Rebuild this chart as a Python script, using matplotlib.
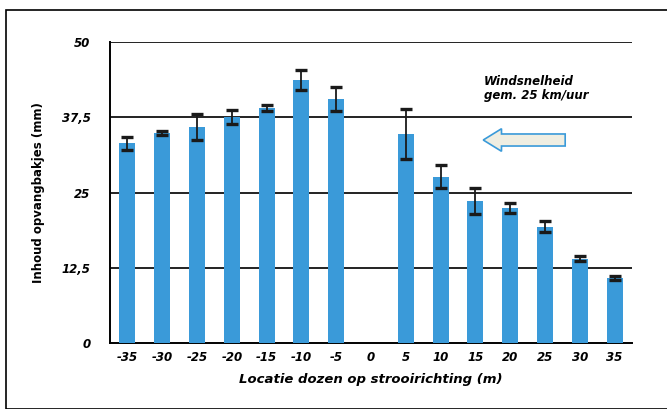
import matplotlib
matplotlib.use("Agg")
import matplotlib.pyplot as plt
from matplotlib.patches import Rectangle, FancyArrow

positions = ["-35", "-30", "-25", "-20", "-15", "-10", "-5", "0", "5", "10", "15", "20", "25", "30", "35"]
values = [33.2, 34.9, 35.9, 37.5, 39.0, 43.7, 40.5, 0.0, 34.7, 27.6, 23.6, 22.4, 19.3, 14.0, 10.8]
errors = [1.1, 0.3, 2.2, 1.2, 0.5, 1.7, 2.0, 0.0, 4.2, 1.9, 2.2, 0.8, 0.9, 0.4, 0.4]
yticks = [0, 12.5, 25, 37.5, 50]
ytick_labels = ["0", "12,5", "25", "37,5", "50"]

bar_color = "#3a9ad9"

fig = plt.figure(figsize=(6.67, 4.09), dpi=100)
ax = fig.add_axes([110/667, 1-343/409, 522/667, 301/409])

x = list(range(len(positions)))
ax.bar(x, values, width=0.46, color=bar_color, zorder=3)
ex = [i for i, v in enumerate(values) if v > 0]
ax.errorbar(ex, [values[i] for i in ex], yerr=[errors[i] for i in ex], fmt="none",
            ecolor="#1a1a1a", elinewidth=1.3, capsize=4, capthick=2.4, zorder=4)

ax.set_xlim(-0.5, len(positions) - 0.5)
ax.set_ylim(0, 50)
ax.set_yticks(yticks)
ax.set_yticklabels(ytick_labels)
ax.set_xticks(x)
ax.set_xticklabels(positions)
for y in yticks[1:]:
    ax.axhline(y, color="#222222", lw=1.4, zorder=2)
for s in ["top", "right"]:
    ax.spines[s].set_visible(False)
ax.spines["left"].set_linewidth(1.4)
ax.spines["bottom"].set_linewidth(1.4)
ax.tick_params(axis="both", length=0, labelsize=8.5)
ax.tick_params(axis="y", pad=14)
ax.tick_params(axis="x", pad=6)
for lab in ax.get_xticklabels() + ax.get_yticklabels():
    lab.set_fontweight("heavy")
    lab.set_fontstyle("italic")

ax.set_ylabel("Inhoud opvangbakjes (mm)", fontsize=8.5, fontweight="heavy", labelpad=12)
ax.set_xlabel("Locatie dozen op strooirichting (m)", fontsize=9.5, fontweight="heavy",
              fontstyle="italic", labelpad=6)

ax.text(0.716, 0.845, "Windsnelheid\ngem. 25 km/uur", transform=ax.transAxes,
        ha="left", va="center", fontsize=8.5, fontweight="heavy", fontstyle="italic",
        linespacing=1.1, zorder=5)

arrow = FancyArrow(0.872, (343-140)/301, -0.157, 0, width=0.04, head_width=0.075,
                   head_length=0.035, length_includes_head=True, transform=ax.transAxes,
                   facecolor="#efeee2", edgecolor="#3a9ad9", lw=1.2, zorder=5)
ax.add_patch(arrow)

fig.patches.append(Rectangle((6/667, 0.0), 1.0, 1-10/409, transform=fig.transFigure,
                             fill=False, edgecolor="black", lw=1.2))

fig.savefig("out.png", dpi=100)
